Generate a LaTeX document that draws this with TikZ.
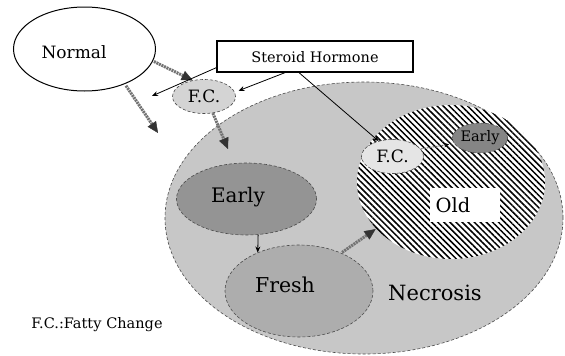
\documentclass[tikz,border=0pt]{standalone}
\usepackage{fontspec}
\setmainfont{DejaVu Serif}
\usetikzlibrary{shapes.geometric,arrows.meta,patterns.meta}
\newcommand{\fsz}[1]{\fontsize{#1}{#1}\selectfont}
\tikzset{
  ell/.style={ellipse,inner sep=0pt},
  dotborder/.style={draw=black!70,densely dashed,line width=0.6pt},
  grayarrow/.style={draw=black!55,line width=3pt,dash pattern=on 2pt off 0.8pt,
     -{Triangle[length=11pt,width=10pt,color=black!80,fill=black!80,line width=0.4pt]}},
  thinarrow/.style={draw=black,line width=0.8pt,-{Stealth[length=6pt,width=5pt]}},
  txt/.style={inner sep=0pt,text=black}
}
\begin{document}
\begin{tikzpicture}[x=1pt,y=-1pt]
\useasboundingbox (0,0) rectangle (565,356);
% big Necrosis area
\node[ell,dotborder,fill=black!22,minimum width=398pt,minimum height=272pt] (necro) at (364,218) {};
% Old (hatched)
\node[ell,fill=white,minimum width=188pt,minimum height=154pt] (oldbg) at (451,182) {};
\node[ell,pattern={Lines[angle=-45,distance=4.3pt,line width=1.5pt]},minimum width=188pt,minimum height=154pt] (old) at (451,182) {};
\node[fill=white,minimum width=70pt,minimum height=34pt,inner sep=0pt] (oldbox) at (465,205) {};
\node[txt] (oldtxt) at (453,205) {\fsz{19.5}Old};
% nodes
\node[ell,draw=black,line width=1pt,minimum width=142pt,minimum height=84pt] (normal) at (84.5,49) {};
\node[txt] (normaltxt) at (74,52) {\fsz{17}Normal};
\node[draw=black,line width=1.3pt,minimum width=196pt,minimum height=31pt,inner sep=0pt] (box) at (315,56.5) {};
\node[txt] (boxtxt) at (315,57) {\fsz{14.5}Steroid Hormone};
\node[ell,dotborder,fill=black!17,minimum width=63pt,minimum height=34pt] (fc1) at (204,96.5) {\fsz{17}F.C.};
\node[ell,dotborder,fill=black!10,minimum width=62pt,minimum height=34pt] (fc2) at (392.5,156.5) {\fsz{17}F.C.};
\node[ell,dotborder,fill=black!48,minimum width=55pt,minimum height=30pt] (early2) at (480,138) {\fsz{14.5}Early};
\node[ell,dotborder,fill=black!42,minimum width=140pt,minimum height=72pt] (early) at (246.5,199) {};
\node[txt] (earlytxt) at (238,197) {\fsz{20}Early};
\node[ell,dotborder,fill=black!32,minimum width=148pt,minimum height=92pt] (fresh) at (299,291) {};
\node[txt] (freshtxt) at (285,285) {\fsz{20.5}Fresh};
\node[txt] (necrotxt) at (435,293) {\fsz{21}Necrosis};
\node[txt] (fatty) at (97,325) {\fsz{14.5}F.C.:Fatty\,\,Change};
% free ends
\coordinate (nd) at (158,133);
\coordinate (fcd) at (228,149);
\coordinate (sl) at (152,96);
% connectors
\draw[grayarrow,shorten <=1pt] (normal.-10) -- (fc1.125);
\draw[grayarrow,shorten <=2pt] (normal.-41) -- (nd);
\draw[grayarrow] (fc1.-62) -- (fcd);
\draw[grayarrow,shorten <=1pt] (fresh.42) -- (old.212);
\draw[thinarrow] ([yshift=5pt]box.south west) -- (sl);
\draw[thinarrow,shorten >=4pt] ([xshift=-30pt]box.south) -- (fc1.8);
\draw[thinarrow] ([xshift=-16pt]box.south) -- (fc2.132);
\draw[draw=black!60,line width=1pt,dash pattern=on 2pt off 1pt,-{Stealth[length=5pt,width=4.5pt,color=black]},shorten >=5pt] (fc2.15) -- (early2.192);
\draw[thinarrow] (early.-72) -- (fresh.137);
\end{tikzpicture}
\end{document}
